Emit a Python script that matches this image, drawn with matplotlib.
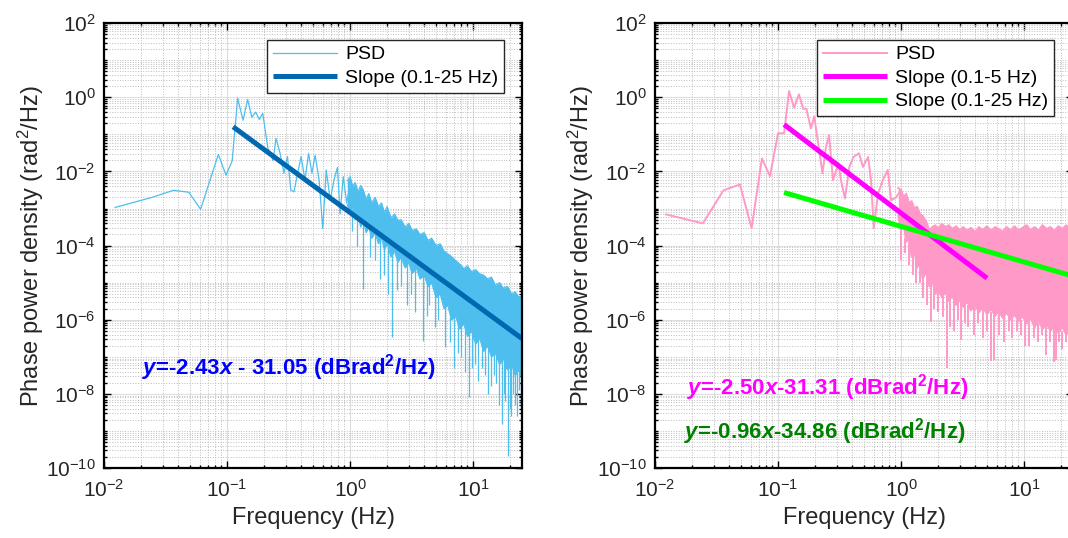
import matplotlib
matplotlib.use('Agg')
import matplotlib.pyplot as plt
from matplotlib.ticker import LogLocator, NullFormatter
import numpy as np


# ---- left panel: PSD (frequency in Hz, log10 of rad^2/Hz)
left_freq = [0.0123, 0.0245, 0.0366, 0.0488, 0.061, 0.085, 0.098, 0.11, 0.122,
             0.135, 0.147, 0.159, 0.171, 0.183, 0.195, 0.215, 0.237, 0.25, 0.27,
             0.29, 0.31, 0.33, 0.35, 0.37, 0.40, 0.43, 0.46, 0.49, 0.52, 0.56,
             0.60, 0.64, 0.69, 0.74, 0.79, 0.83, 0.88, 0.94, 1.0]
left_exp = [-2.97, -2.70, -2.51, -2.56, -3.02, -1.54, -2.10, -1.72, -0.03,
            -0.62, -0.06, -0.54, -0.40, -0.60, -0.43, -1.38, -1.70, -1.11, -1.51,
            -2.05, -1.60, -2.50, -2.55, -2.14, -1.60, -2.23, -1.51, -2.05, -1.56, -2.23,
            -3.54, -1.96, -2.77, -2.23, -1.89, -3.14, -2.14, -2.86, -2.30]

# dense part above ~1 Hz, upper and lower edge of the trace
band_freq = [0.95, 1.0, 1.05, 1.1, 1.16, 1.22, 1.28, 1.35, 1.42, 1.5, 1.6, 1.7,
             1.8, 1.9, 2.0, 2.15, 2.3, 2.45, 2.6, 2.8, 3.0, 3.2, 3.45, 3.7, 4.0,
             4.3, 4.6, 5.0, 5.4, 5.8, 6.2, 6.7, 7.2, 7.8, 8.4, 9.0, 9.7, 10.5,
             11.3, 12.2, 13.1, 14.1, 15.2, 16.4, 17.6, 19.0, 20.5, 22.0, 23.6, 25.0]
left_band_hi = [-2.25, -2.14, -2.40, -2.30, -2.55, -2.38, -2.50, -2.75, -2.60, -2.85,
                -2.70, -2.95, -2.85, -3.10, -2.95, -3.25, -3.15, -3.32, -3.30, -3.50,
                -3.40, -3.59, -3.55, -3.70, -3.65, -3.86, -3.80, -4.00, -3.95, -4.15,
                -4.22, -4.30, -4.40, -4.50, -4.62, -4.55, -4.70, -4.65, -4.76, -4.80,
                -4.90, -4.85, -5.07, -5.00, -5.15, -5.10, -5.30, -5.25, -5.39, -5.35]
left_band_lo = [-2.90, -3.10, -2.95, -3.30, -3.15, -3.50, -3.30, -3.65, -3.50, -3.80,
                -3.65, -3.95, -3.80, -4.10, -3.95, -4.30, -4.15, -4.45, -4.30, -4.60,
                -4.45, -4.75, -4.60, -4.90, -4.80, -5.10, -5.00, -5.40, -5.30, -5.70,
                -5.60, -6.00, -5.90, -6.25, -6.10, -6.45, -6.30, -6.65, -6.50, -6.85,
                -6.70, -7.00, -6.90, -7.20, -7.05, -7.35, -7.20, -7.50, -7.35, -7.60]

left_dip_freq = [1.03, 1.13, 1.28, 1.45, 1.6, 1.75, 1.9, 2.05, 2.18, 2.4, 2.6, 2.9,
                 3.1, 3.4, 3.95, 4.2, 4.4, 4.9, 5.2, 5.9, 6.5, 7.0, 7.5, 8.0, 8.6,
                 9.2, 9.8, 10.3, 11.0, 11.8, 12.5, 13.3, 14.0, 14.8, 15.5, 16.3,
                 17.1, 17.8, 18.3, 19.4, 20.0, 20.5, 21.2, 22.0, 22.8, 23.5, 24.5]
left_dip_top = [-3.0, -3.2, -3.3, -3.5, -3.6, -3.8, -3.9, -4.0, -4.1, -4.3, -4.3,
                -4.5, -4.5, -4.6, -4.8, -4.9, -4.9, -5.2, -5.2, -5.5, -5.8, -5.8,
                -6.0, -6.0, -6.1, -6.2, -6.3, -6.4, -6.5, -6.6, -6.7, -6.7, -6.8,
                -6.8, -6.9, -7.0, -7.0, -7.1, -7.1, -7.2, -7.2, -7.2, -7.3, -7.3,
                -7.3, -7.4, -7.4]
left_dip_bot = [-3.6, -4.0, -5.16, -4.3, -4.4, -4.9, -4.8, -5.3, -6.47, -5.2, -5.1,
                -5.6, -5.3, -5.8, -6.56, -5.9, -5.6, -6.2, -6.0, -6.74, -6.6, -7.3,
                -6.9, -7.0, -7.4, -8.09, -7.3, -7.2, -7.65, -7.3, -7.5, -8.0, -7.8,
                -7.5, -7.7, -8.3, -8.81, -8.0, -8.2, -9.67, -8.4, -8.6, -8.0, -8.3,
                -8.6, -7.9, -8.36]

left_fit_freq = [0.112, 25.0]
left_fit_psd = [0.16, 3.1e-7]

# ---- right panel
right_freq = [0.0123, 0.0245, 0.036, 0.049, 0.061, 0.074, 0.086, 0.10, 0.112,
              0.123, 0.135, 0.148, 0.16, 0.17, 0.185, 0.197, 0.21, 0.23, 0.245,
              0.26, 0.28, 0.31, 0.325, 0.35, 0.38, 0.41, 0.455, 0.49, 0.54, 0.57,
              0.60, 0.65, 0.71, 0.78, 0.83, 0.91, 1.0]
right_exp = [-3.16, -3.40, -2.51, -2.35, -3.53, -1.65, -2.13, -0.97, -0.97,
             0.17, -0.28, 0.08, -0.31, -0.31, -0.84, -0.51, -1.16, -2.05, -1.35,
             -1.02, -2.24, -1.78, -2.24, -2.73, -1.88, -1.61, -1.51, -1.88, -1.61, -2.24,
             -3.53, -2.60, -2.24, -1.96, -2.78, -2.70, -2.50]

right_band_hi = [-2.45, -2.50, -2.70, -2.60, -2.85, -2.80, -3.00, -2.95, -3.14, -3.20,
                 -3.35, -3.59, -3.50, -3.45, -3.55, -3.41, -3.50, -3.45, -3.55, -3.48,
                 -3.58, -3.50, -3.60, -3.52, -3.63, -3.50, -3.58, -3.48, -3.60, -3.50,
                 -3.55, -3.62, -3.50, -3.58, -3.48, -3.60, -3.52, -3.45, -3.58, -3.50,
                 -3.60, -3.45, -3.55, -3.50, -3.60, -3.48, -3.55, -3.45, -3.58, -3.50]
right_band_lo = [-3.20, -3.60, -3.40, -3.90, -3.80, -4.30, -4.10, -4.60, -4.40, -4.90,
                 -4.70, -5.10, -4.95, -5.30, -5.15, -5.40, -5.25, -5.50, -5.35, -5.60,
                 -5.45, -5.66, -5.50, -5.75, -5.60, -5.80, -5.65, -5.85, -5.70, -5.90,
                 -5.75, -5.95, -5.80, -6.00, -5.85, -6.05, -5.90, -6.10, -5.95, -6.20,
                 -6.00, -6.25, -6.10, -6.30, -6.15, -6.35, -6.20, -6.40, -6.25, -6.40]

right_dip_freq = [1.0, 1.08, 1.16, 1.25, 1.32, 1.42, 1.5, 1.62, 1.75, 1.85, 2.0,
                  2.19, 2.37, 2.5, 2.7, 2.9, 3.07, 3.3, 3.5, 3.92, 4.2, 4.6, 5.0,
                  5.4, 5.7, 6.3, 6.9, 7.5, 8.0, 8.8, 9.4, 10.2, 11.0, 12.0, 13.0,
                  14.0, 15.1, 16.3, 17.6, 18.2, 19.3, 20.5, 21.8, 23.0, 24.3]
right_dip_top = [-3.5, -3.8, -3.9, -4.1, -4.2, -4.4, -4.6, -4.7, -4.9, -5.0, -5.1,
                 -5.2, -5.3, -5.3, -5.4, -5.4, -5.5, -5.5, -5.6, -5.6, -5.7, -5.7,
                 -5.8, -5.8, -5.8, -5.8, -5.9, -5.9, -5.9, -6.0, -6.0, -6.0, -6.0,
                 -6.1, -6.1, -6.1, -6.1, -6.2, -6.2, -6.2, -6.2, -6.3, -6.3, -6.3,
                 -6.3]
right_dip_bot = [-4.40, -4.2, -4.53, -4.8, -5.02, -5.0, -5.4, -5.6, -6.07, -5.7,
                 -5.8, -5.93, -7.31, -6.2, -6.3, -6.0, -6.55, -6.1, -6.2, -6.4,
                 -6.1, -6.5, -6.3, -7.1, -7.09, -6.4, -6.6, -6.3, -6.5, -6.3, -6.4,
                 -6.7, -6.7, -6.5, -6.6, -6.4, -6.96, -6.6, -7.14, -7.09, -6.6,
                 -6.8, -6.6, -6.9, -6.6]

fit5_freq = [0.112, 5.0]
fit5_psd = [0.184, 1.32e-5]
fit25_freq = [0.112, 25.0]
fit25_psd = [2.7e-3, 1.5e-5]


def setup_fonts():
    """
    Arial-like fonts, mathtext in the same family
    """
    plt.rcParams['font.family'] = ['Liberation Sans', 'DejaVu Sans']
    plt.rcParams['mathtext.fontset'] = 'custom'
    plt.rcParams['mathtext.rm'] = 'Liberation Sans'
    plt.rcParams['mathtext.it'] = 'Liberation Sans:italic'
    plt.rcParams['mathtext.bf'] = 'Liberation Sans:bold'
    if 'mathtext.bfit' in plt.rcParams:
        plt.rcParams['mathtext.bfit'] = 'Liberation Sans:italic:bold'


def style_axes(ax):
    """
    matlab-like log axes with grid and minor grid
    """
    ax.set_xscale('log')
    ax.set_yscale('log')
    ax.set_xlim(0.01, 25)
    ax.set_ylim(1e-10, 1e2)
    ax.set_yticks([10.0 ** k for k in range(-10, 3, 2)])
    ax.set_xticks([1e-2, 1e-1, 1e0, 1e1])
    ax.yaxis.set_minor_locator(LogLocator(base=10, subs=np.arange(1, 10), numticks=100))
    ax.xaxis.set_minor_locator(LogLocator(base=10, subs=np.arange(2, 10), numticks=100))
    ax.yaxis.set_minor_formatter(NullFormatter())
    ax.xaxis.set_minor_formatter(NullFormatter())
    ax.set_axisbelow(True)
    ax.grid(True, which='major', color='#dedede', linewidth=0.8, linestyle='-')
    ax.grid(True, which='minor', color='#bdbdbd', linewidth=0.7, linestyle=':')
    ax.tick_params(which='both', direction='in', top=True, right=True,
                   labelsize=15, labelcolor='#262626', width=1.0)
    ax.tick_params(which='major', length=5)
    ax.tick_params(axis='x', which='major', pad=8)
    ax.tick_params(axis='y', which='major', pad=6)
    ax.tick_params(which='minor', length=2.5)
    for sp in ax.spines.values():
        sp.set_linewidth(1.6)
        sp.set_color('black')
    ax.set_xlabel('Frequency (Hz)', fontsize=17, color='#262626', labelpad=4)
    ax.set_ylabel('Phase power density (rad$^2$/Hz)', fontsize=17, color='#262626')
    ax.yaxis.set_label_coords(-0.14, 0.5)


def draw_psd(ax, freq, exp, band_hi, band_lo, dip_f, dip_top, dip_bot, color, lw):
    """
    sparse low-frequency trace plus the dense high-frequency band
    """
    line, = ax.plot(freq, 10.0 ** np.array(exp), color=color, linewidth=lw)
    ax.fill_between(band_freq, 10.0 ** np.array(band_lo), 10.0 ** np.array(band_hi),
                    color=color, linewidth=0)
    ax.plot(band_freq, 10.0 ** np.array(band_hi), color=color, linewidth=lw)
    ax.plot(band_freq, 10.0 ** np.array(band_lo), color=color, linewidth=lw)
    ax.vlines(dip_f, 10.0 ** np.array(dip_bot), 10.0 ** np.array(dip_top),
              color=color, linewidth=lw)
    return line


def plot_psd_panels():
    """
    two PSD panels with slope fits
    """
    setup_fonts()

    fig = plt.figure(figsize=(10.68, 5.38), dpi=100)
    ax1 = fig.add_axes([0.0974, 0.130, 0.3914, 0.827])
    ax2 = fig.add_axes([0.6133, 0.130, 0.3914, 0.827])

    # left
    style_axes(ax1)
    psd1 = draw_psd(ax1, left_freq, left_exp, left_band_hi, left_band_lo,
                    left_dip_freq, left_dip_top, left_dip_bot, '#4dbeee', 0.9)
    fit1, = ax1.plot(left_fit_freq, left_fit_psd, color='#0068b0', linewidth=3.6,
                     solid_capstyle='butt')
    leg = ax1.legend([psd1, fit1], ['PSD', 'Slope (0.1-25 Hz)'], loc='upper right',
                     bbox_to_anchor=(0.957, 0.962), fontsize=14, fancybox=False,
                     edgecolor='#262626', framealpha=1, handlelength=3.3,
                     handletextpad=0.4, labelspacing=0.3, borderpad=0.3,
                     borderaxespad=0)
    leg.get_frame().set_linewidth(1.0)
    ax1.text(0.091, 0.225, r'$\mathbfit{y}$=-2.43$\mathbfit{x}$ - 31.05 (dBrad$^{\mathbf{2}}$/Hz)',
             transform=ax1.transAxes, fontsize=16, fontweight='bold',
             color='#0000ff', va='center', ha='left')

    # right
    style_axes(ax2)
    psd2 = draw_psd(ax2, right_freq, right_exp, right_band_hi, right_band_lo,
                    right_dip_freq, right_dip_top, right_dip_bot, '#ff99c8', 1.4)
    f5, = ax2.plot(fit5_freq, fit5_psd, color='#ff00ff', linewidth=3.6,
                   solid_capstyle='butt')
    f25, = ax2.plot(fit25_freq, fit25_psd, color='#00ff00', linewidth=3.6,
                    solid_capstyle='butt')
    leg = ax2.legend([psd2, f5, f25], ['PSD', 'Slope (0.1-5 Hz)', 'Slope (0.1-25 Hz)'],
                     loc='upper right', bbox_to_anchor=(0.955, 0.962), fontsize=14,
                     fancybox=False, edgecolor='#262626', framealpha=1,
                     handlelength=3.3, handletextpad=0.4, labelspacing=0.3,
                     borderpad=0.3, borderaxespad=0)
    leg.get_frame().set_linewidth(1.0)
    ax2.text(0.077, 0.182, r'$\mathbfit{y}$=-2.50$\mathbfit{x}$-31.31 (dBrad$^{\mathbf{2}}$/Hz)',
             transform=ax2.transAxes, fontsize=16, fontweight='bold',
             color='#ff00ff', va='center', ha='left')
    ax2.text(0.069, 0.081, r'$\mathbfit{y}$=-0.96$\mathbfit{x}$-34.86 (dBrad$^{\mathbf{2}}$/Hz)',
             transform=ax2.transAxes, fontsize=16, fontweight='bold',
             color='#008000', va='center', ha='left')

    plt.savefig('out.png', dpi=100)


if __name__ == '__main__':
    plot_psd_panels()
